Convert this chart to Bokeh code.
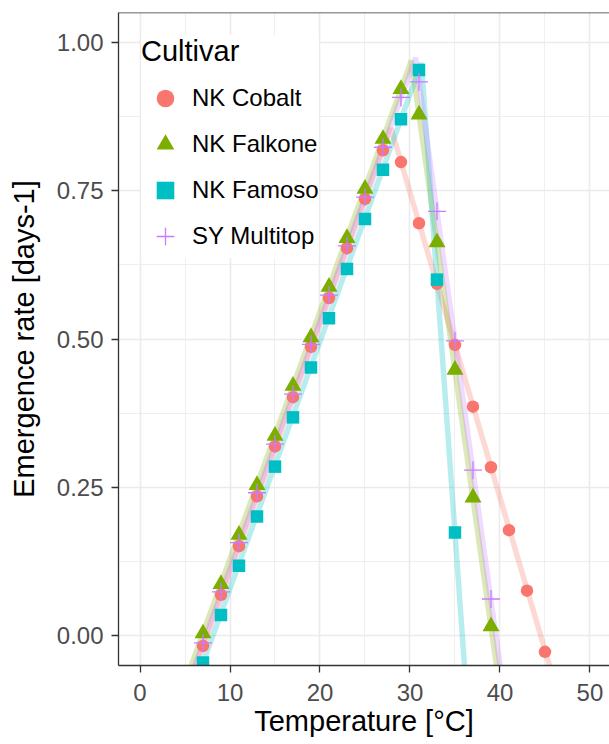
from bokeh.plotting import figure
from bokeh.models import FixedTicker, NumeralTickFormatter, Span, Legend, LegendItem, Range1d
from bokeh.embed import file_html
from bokeh.resources import INLINE

# ---------------- data ----------------
cultivars = ["NK Cobalt", "NK Falkone", "NK Famoso", "SY Multitop"]
colors = ["#F8766D", "#7CAE00", "#00BFC4", "#C77CFF"]
markers = ["circle", "triangle", "square", "cross"]

temp_cobalt = [7, 9, 11, 13, 15, 17, 19, 21, 23, 25, 27, 29, 31, 33, 35, 37, 39, 41, 43, 45]
rate_cobalt = [-0.017, 0.069, 0.151, 0.235, 0.319, 0.402, 0.487, 0.569, 0.653, 0.736, 0.818,
               0.798, 0.695, 0.593, 0.490, 0.386, 0.284, 0.178, 0.076, -0.027]

temp_falkone = [7, 9, 11, 13, 15, 17, 19, 21, 23, 25, 27, 29, 31, 33, 35, 37, 39]
rate_falkone = [0.004, 0.087, 0.170, 0.254, 0.337, 0.421, 0.503, 0.588, 0.670, 0.753, 0.837,
                0.921, 0.878, 0.663, 0.448, 0.233, 0.016]

temp_famoso = [7, 9, 11, 13, 15, 17, 19, 21, 23, 25, 27, 29, 31, 33, 35]
rate_famoso = [-0.045, 0.035, 0.118, 0.201, 0.285, 0.368, 0.452, 0.535, 0.618, 0.702, 0.785,
               0.870, 0.953, 0.600, 0.174]

temp_multitop = [7, 9, 11, 13, 15, 17, 19, 21, 23, 25, 27, 29, 31, 33, 35, 37, 39]
rate_multitop = [-0.012, 0.074, 0.157, 0.241, 0.323, 0.407, 0.491, 0.574, 0.657, 0.739, 0.823,
                 0.907, 0.933, 0.715, 0.497, 0.279, 0.062]

# fitted (model) curves: start, optimum, end
fit_temp_cobalt = [6.0, 27.9, 45.7]
fit_rate_cobalt = [-0.06, 0.855, -0.06]
fit_temp_falkone = [5.45, 30.15, 39.7]
fit_rate_falkone = [-0.06, 0.969, -0.06]
fit_temp_famoso = [6.65, 31.27, 36.1]
fit_rate_famoso = [-0.06, 0.965, -0.06]
fit_temp_multitop = [5.85, 30.62, 40.1]
fit_rate_multitop = [-0.06, 0.974, -0.06]

x_ticks = [0, 10, 20, 30, 40, 50]
x_minor = [5, 15, 25, 35, 45]
y_ticks = [0.0, 0.25, 0.5, 0.75, 1.0]
y_minor = [0.125, 0.375, 0.625, 0.875]

x_title = "Temperature [°C]"
y_title = "Emergence rate [days-1]"
legend_title = "Cultivar"

temps = [temp_cobalt, temp_falkone, temp_famoso, temp_multitop]
rates = [rate_cobalt, rate_falkone, rate_famoso, rate_multitop]
fit_temps = [fit_temp_cobalt, fit_temp_falkone, fit_temp_famoso, fit_temp_multitop]
fit_rates = [fit_rate_cobalt, fit_rate_falkone, fit_rate_famoso, fit_rate_multitop]

FONT = "Liberation Sans"

# ---------------- figure ----------------
p = figure(width=609, height=744,
           x_range=Range1d(-2.39, 52.17), y_range=Range1d(-0.05, 1.05),
           output_backend="svg", toolbar_location=None,
           min_border_left=118, min_border_right=0, min_border_top=12, min_border_bottom=79)

p.background_fill_color = "white"
p.border_fill_color = "white"
p.outline_line_color = None

xt = FixedTicker(ticks=x_ticks, minor_ticks=x_minor)
yt = FixedTicker(ticks=y_ticks, minor_ticks=y_minor)
p.xaxis.ticker = xt
p.yaxis.ticker = yt
p.xgrid.ticker = xt
p.ygrid.ticker = yt
p.yaxis.formatter = NumeralTickFormatter(format="0.00")

for g in (p.xgrid, p.ygrid):
    g.grid_line_color = "#EBEBEB"
    g.grid_line_width = 1.6
    g.minor_grid_line_color = "#EBEBEB"
    g.minor_grid_line_width = 0.8

for ax in (p.xaxis, p.yaxis):
    ax.axis_line_color = "#333333"
    ax.axis_line_width = 1.3
    ax.major_tick_line_color = "#333333"
    ax.major_tick_line_width = 1.3
    ax.major_tick_out = 7
    ax.major_tick_in = 0
    ax.minor_tick_line_color = None
    ax.major_label_text_font = FONT
    ax.major_label_text_font_size = "24px"
    ax.major_label_text_color = "#4D4D4D"
    ax.axis_label_text_font = FONT
    ax.axis_label_text_font_size = "29px"
    ax.axis_label_text_font_style = "normal"
    ax.axis_label_text_color = "black"

p.xaxis.axis_label = x_title
p.yaxis.axis_label = y_title
p.xaxis.major_label_standoff = 11
p.xaxis.axis_label_standoff = 1
p.yaxis.major_label_standoff = 8
p.yaxis.axis_label_standoff = 14

# top border of the panel
p.add_layout(Span(location=1.05, dimension="width", line_color="#333333", line_width=1.3))

# fitted lines
for ft, fr, c in zip(fit_temps, fit_rates, colors):
    p.line(ft, fr, line_color=c, line_width=5.5, line_alpha=0.28)

# points
items = []
for t, r, c, m, name in zip(temps, rates, colors, markers, cultivars):
    if m == "circle":
        rr = p.scatter(t, r, marker="circle", size=12.5, fill_color=c, line_color=None)
    elif m == "triangle":
        rr = p.scatter(t, r, marker="triangle", size=17, fill_color=c, line_color=None)
    elif m == "square":
        rr = p.scatter(t, r, marker="square", size=12.5, fill_color=c, line_color=None)
    else:
        rr = p.scatter(t, r, marker="cross", size=18, line_color=c, line_width=1.3)
    items.append(LegendItem(label=name, renderers=[rr]))

legend = Legend(items=items, location="top_left", title=legend_title,
                title_text_font=FONT, title_text_font_size="29px", title_text_font_style="normal",
                title_text_color="black", title_standoff=8,
                label_text_font=FONT, label_text_font_size="24px", label_text_color="black",
                label_height=44, glyph_height=44, glyph_width=48, label_standoff=3,
                spacing=2, padding=14, margin=23,
                background_fill_color="white", background_fill_alpha=1.0,
                border_line_color=None)
p.add_layout(legend)

open("out.html", "w").write(file_html(p, INLINE))
